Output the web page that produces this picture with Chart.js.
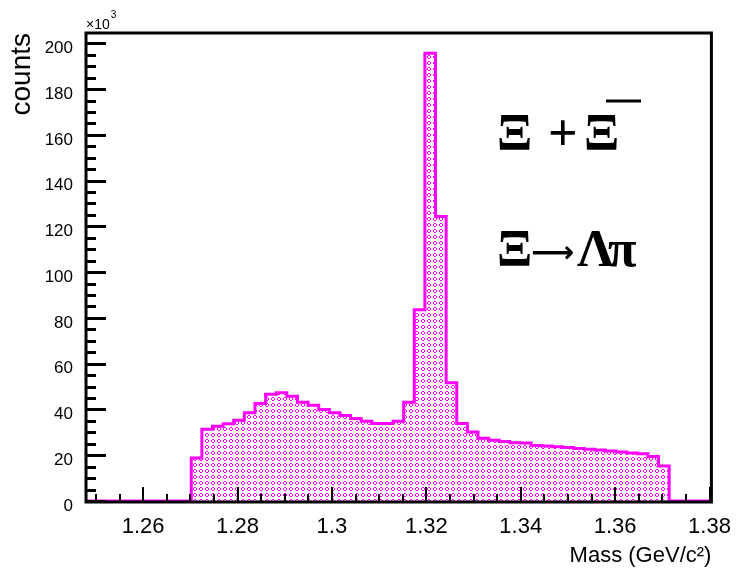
<!DOCTYPE html>
<html>
<head>
<meta charset="utf-8">
<script src="https://cdn.jsdelivr.net/npm/chart.js@4.4.1/dist/chart.umd.min.js"></script>
<style>
  html, body { margin: 0; padding: 0; background: #fff; }
</style>
</head>
<body>
<canvas id="massChart" width="736" height="571"></canvas>
<script>
// Xi candidates, invariant mass histogram (counts per bin)
const binLow = 1.2702;
const binWidth = 0.00225;
const binCounts = [
  18800, 31300, 32700, 33800, 35300, 38600, 42600, 46600, 47300, 45800,
  43200, 41800, 40000, 38600, 37400, 36100, 34900, 33900, 33900, 34900,
  43200, 83600, 195600, 124300, 51700, 33900, 30100, 27400, 26600, 26000,
  25500, 25300, 24300, 24000, 23700, 23400, 22900, 22600, 22300, 21800,
  21400, 21000, 20700, 19400, 15300
];

const xRange = [1.2479, 1.3804];
const yRange = [0, 204500];
const xTicks = [1.26, 1.28, 1.30, 1.32, 1.34, 1.36, 1.38];
const yTicks = [0, 20000, 40000, 60000, 80000, 100000, 120000, 140000, 160000, 180000, 200000];
const xMinorStep = 0.005;
const yMinorStep = 5000;
const xTitle = 'Mass (GeV/c\u00B2)';
const yTitle = 'counts';

// step points: left edge of every bin, plus the empty range on both sides
const points = [{ x: xRange[0], y: 0 }];
binCounts.forEach((c, i) => points.push({ x: binLow + i * binWidth, y: c }));
points.push({ x: binLow + binCounts.length * binWidth, y: 0 });
points.push({ x: xRange[1], y: 0 });

// small magenta diamonds on white, like the ROOT hatch style
function dotPattern() {
  const tile = document.createElement('canvas');
  tile.width = 6;
  tile.height = 6;
  const t = tile.getContext('2d');
  t.fillStyle = '#fff';
  t.fillRect(0, 0, 6, 6);
  t.fillStyle = '#ff00ff';
  [[2, 0], [3, 0], [1, 1], [4, 1], [1, 2], [4, 2], [2, 3], [3, 3]].forEach(([px, py]) => {
    t.fillRect(px, py + 1, 1, 1);
  });
  return t.createPattern(tile, 'repeat');
}

// ROOT style frame: inward ticks, thick box, exponent and the decay labels
const rootFrame = {
  id: 'rootFrame',
  afterDraw(chart) {
    const { ctx, chartArea: a, scales: { x, y } } = chart;
    ctx.save();
    ctx.strokeStyle = '#000';

    ctx.lineWidth = 3;
    for (let v = yRange[0]; v <= yRange[1]; v += yMinorStep) {
      const py = Math.round(y.getPixelForValue(v)) + 0.5;
      const len = yTicks.includes(v) ? 20 : 10;
      ctx.beginPath();
      ctx.moveTo(a.left, py);
      ctx.lineTo(a.left + len, py);
      ctx.stroke();
    }

    ctx.lineWidth = 2;
    const first = Math.ceil(xRange[0] / xMinorStep);
    const last = Math.floor(xRange[1] / xMinorStep);
    for (let k = first; k <= last; k++) {
      const v = k * xMinorStep;
      const px = Math.round(x.getPixelForValue(v));
      const major = xTicks.some(t => Math.abs(t - v) < 1e-6);
      ctx.beginPath();
      ctx.moveTo(px, a.bottom);
      ctx.lineTo(px, a.bottom - (major ? 14 : 7));
      ctx.stroke();
    }

    ctx.lineWidth = 3;
    ctx.strokeRect(a.left, a.top, a.right - a.left, a.bottom - a.top + 1);

    ctx.fillStyle = '#000';
    ctx.textBaseline = 'alphabetic';
    ctx.textAlign = 'left';
    ctx.font = '14px "Liberation Sans"';
    const expW = ctx.measureText('\u00D710').width;
    ctx.fillText('\u00D710', a.left, a.top - 4);
    ctx.font = '10px "Liberation Sans"';
    ctx.fillText('3', a.left + expW + 1, a.top - 15);

    ctx.font = 'bold 52px "Liberation Serif"';
    ctx.fillText('\u039E', 497, 150);
    ctx.fillText('+', 548, 150);
    ctx.fillText('\u039E', 584, 150);
    ctx.fillText('\u039E', 497, 266);
    ctx.fillText('\u039B', 577, 266);
    ctx.fillText('\u03C0', 608, 266);
    ctx.font = 'bold 30px "DejaVu Sans"';
    ctx.fillText('\u27F6', 531, 262, 46);
    ctx.lineWidth = 3;
    ctx.beginPath();
    ctx.moveTo(606, 101);
    ctx.lineTo(641, 101);
    ctx.stroke();
    ctx.restore();
  }
};

const ctx = document.getElementById('massChart').getContext('2d');
new Chart(ctx, {
  type: 'line',
  data: {
    datasets: [{
      data: points,
      stepped: 'before',
      borderColor: '#ff00ff',
      borderWidth: 3,
      backgroundColor: dotPattern(),
      fill: 'origin',
      pointRadius: 0,
      tension: 0
    }]
  },
  options: {
    responsive: false,
    animation: false,
    layout: { padding: { top: 33, right: 23, left: 0, bottom: 0 } },
    plugins: { legend: { display: false }, tooltip: { enabled: false } },
    scales: {
      x: {
        type: 'linear',
        min: xRange[0],
        max: xRange[1],
        grid: { display: false },
        border: { display: false },
        afterFit: s => { s.height = 70; },
        afterBuildTicks: s => { s.ticks = xTicks.map(v => ({ value: v })); },
        ticks: {
          padding: 5,
          maxRotation: 0,
          color: '#000',
          font: { family: 'Liberation Sans', size: 22 },
          callback: v => String(+v.toFixed(2))
        },
        title: {
          display: true,
          text: xTitle,
          align: 'end',
          color: '#000',
          font: { family: 'Liberation Sans', size: 22 },
          padding: { top: 0, bottom: 2 }
        }
      },
      y: {
        min: yRange[0],
        max: yRange[1],
        grid: { display: false },
        border: { display: false },
        afterFit: s => { s.width = 86; },
        afterBuildTicks: s => { s.ticks = yTicks.map(v => ({ value: v })); },
        ticks: {
          padding: 5,
          labelOffset: 5,
          color: '#000',
          font: { family: 'Liberation Sans', size: 17 },
          callback: v => String(v / 1000)
        },
        title: {
          display: true,
          text: yTitle,
          align: 'end',
          color: '#000',
          font: { family: 'Liberation Sans', size: 28 },
          padding: { top: 5, bottom: 0 }
        }
      }
    }
  },
  plugins: [rootFrame]
});
</script>
</body>
</html>
